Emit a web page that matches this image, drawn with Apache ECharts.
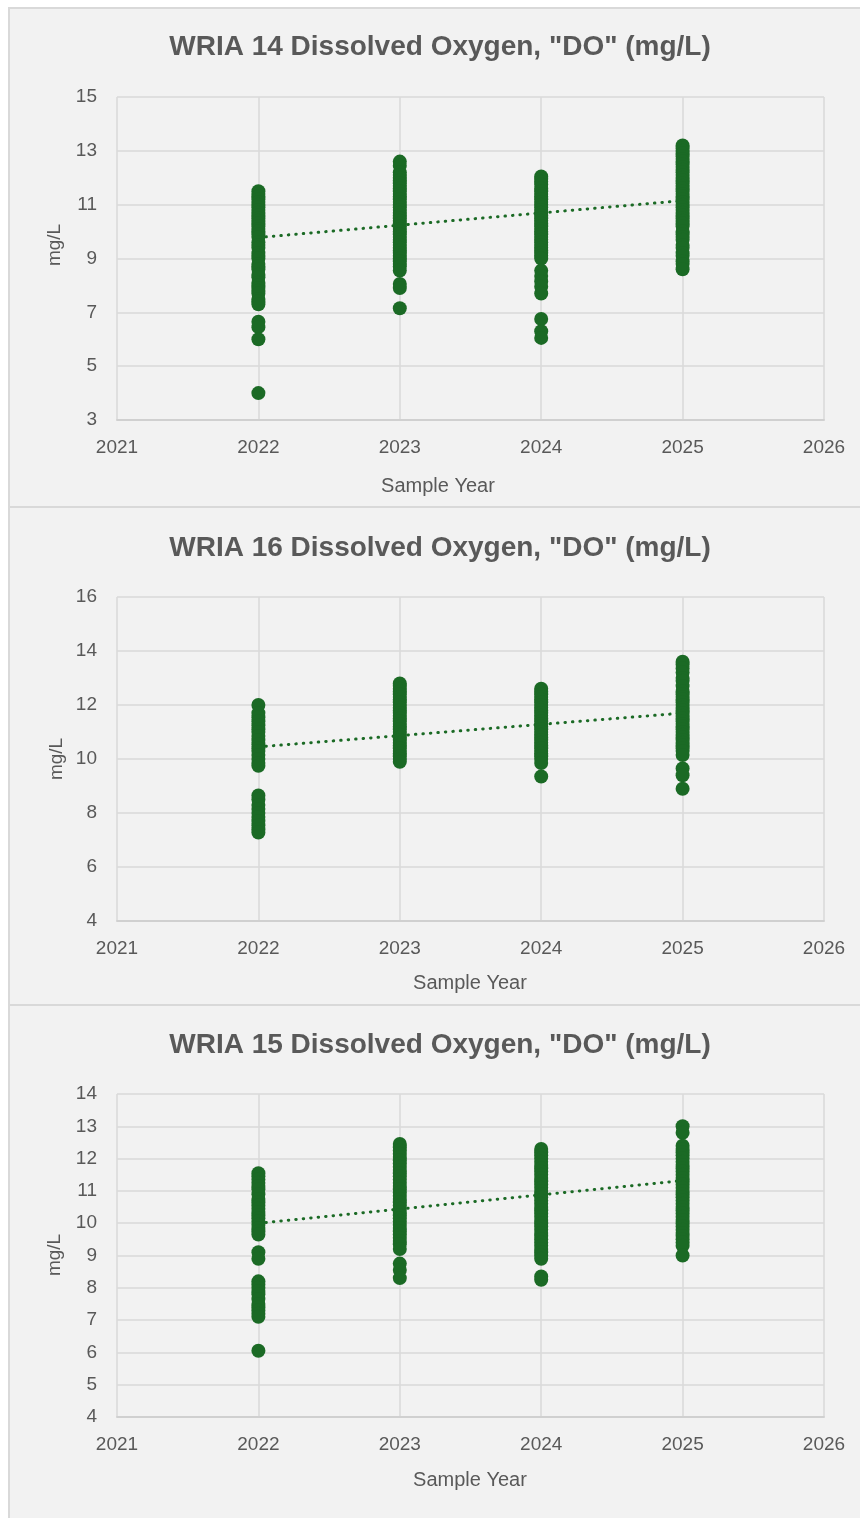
<!DOCTYPE html>
<html>
<head>
<meta charset="utf-8">
<script src="https://cdn.jsdelivr.net/npm/echarts@6/dist/echarts.min.js"></script>
<style>
  html, body { margin: 0; padding: 0; background: #ffffff; }
  #wrap { position: relative; width: 860px; height: 1518px; overflow: hidden; }
  .panel { position: absolute; left: 8px; width: 860px; background: #f2f2f2; border-left: 2px solid #d9d9d9; border-top: 2px solid #d9d9d9; box-sizing: border-box; }
  #chart { position: absolute; left: 0; top: 0; width: 860px; height: 1518px; }
</style>
</head>
<body>
<div id="wrap">
  <div class="panel" style="top:7px;height:500px;"></div>
  <div class="panel" style="top:506px;height:499px;"></div>
  <div class="panel" style="top:1004px;height:520px;"></div>
  <div id="chart"></div>
</div>
<script>
// ---------- data ----------
const years = [2022, 2023, 2024, 2025];
const xTicks = [2021, 2022, 2023, 2024, 2025, 2026];

const titles = ['WRIA 14 Dissolved Oxygen, "DO" (mg/L)', 'WRIA 16 Dissolved Oxygen, "DO" (mg/L)', 'WRIA 15 Dissolved Oxygen, "DO" (mg/L)'];

// WRIA 14
const w14_2022 = [11.5, 11.4, 11.3, 11.2, 11.1, 11.0, 10.9, 10.8, 10.7, 10.6, 10.5, 10.4, 10.3, 10.2, 10.1, 10.0, 9.9, 9.8, 9.6, 9.5, 9.4, 9.2, 9.1, 9.0, 8.8, 8.7, 8.6, 8.4, 8.3, 8.1, 8.0, 7.9, 7.8, 7.7, 7.5, 7.4, 7.3, 6.65, 6.45, 6.0, 4.0];
const w14_2023 = [12.6, 12.45, 12.2, 12.1, 12.0, 11.9, 11.8, 11.7, 11.6, 11.5, 11.4, 11.3, 11.2, 11.1, 11.0, 10.9, 10.8, 10.7, 10.6, 10.5, 10.4, 10.3, 10.2, 10.1, 10.0, 9.9, 9.8, 9.7, 9.6, 9.5, 9.4, 9.3, 9.2, 9.1, 9.0, 8.9, 8.8, 8.7, 8.55, 8.05, 7.9, 7.15];
const w14_2024 = [12.05, 11.95, 11.85, 11.75, 11.6, 11.5, 11.4, 11.3, 11.2, 11.1, 11.0, 10.9, 10.8, 10.7, 10.6, 10.5, 10.4, 10.3, 10.2, 10.1, 10.0, 9.9, 9.8, 9.7, 9.6, 9.5, 9.4, 9.3, 9.2, 9.1, 9.0, 8.55, 8.35, 8.15, 7.95, 7.7, 6.75, 6.3, 6.05];
const w14_2025 = [13.2, 13.1, 13.0, 12.9, 12.8, 12.7, 12.6, 12.5, 12.4, 12.3, 12.2, 12.1, 12.0, 11.9, 11.8, 11.7, 11.6, 11.5, 11.4, 11.3, 11.2, 11.1, 11.0, 10.9, 10.8, 10.7, 10.6, 10.5, 10.4, 10.3, 10.2, 10.0, 9.9, 9.8, 9.7, 9.5, 9.4, 9.2, 9.1, 8.9, 8.8, 8.6];
const w14_trend = [9.78, 11.15];

// WRIA 16
const w16_2022 = [12.0, 11.7, 11.55, 11.4, 11.25, 11.1, 11.0, 10.85, 10.7, 10.55, 10.4, 10.3, 10.15, 10.0, 9.85, 9.75, 8.65, 8.5, 8.3, 8.15, 8.0, 7.85, 7.7, 7.55, 7.4, 7.28];
const w16_2023 = [12.8, 12.7, 12.6, 12.5, 12.4, 12.3, 12.2, 12.1, 12.0, 11.9, 11.8, 11.7, 11.6, 11.5, 11.4, 11.3, 11.2, 11.1, 11.0, 10.9, 10.8, 10.7, 10.6, 10.5, 10.4, 10.3, 10.2, 10.1, 10.0, 9.9];
const w16_2024 = [12.6, 12.5, 12.4, 12.3, 12.2, 12.1, 12.0, 11.9, 11.8, 11.7, 11.6, 11.5, 11.4, 11.3, 11.2, 11.1, 11.0, 10.9, 10.8, 10.7, 10.6, 10.5, 10.4, 10.3, 10.2, 10.1, 10.0, 9.85, 9.35];
const w16_2025 = [13.6, 13.5, 13.35, 13.2, 13.0, 12.9, 12.7, 12.5, 12.4, 12.3, 12.2, 12.1, 12.0, 11.9, 11.8, 11.7, 11.6, 11.5, 11.4, 11.3, 11.2, 11.1, 11.0, 10.9, 10.8, 10.7, 10.6, 10.5, 10.4, 10.3, 10.15, 9.65, 9.4, 8.9];
const w16_trend = [10.45, 11.7];

// WRIA 15
const w15_2022 = [11.55, 11.45, 11.35, 11.25, 11.15, 11.05, 10.9, 10.75, 10.65, 10.55, 10.45, 10.35, 10.25, 10.15, 10.05, 9.95, 9.85, 9.75, 9.65, 9.1, 8.9, 8.2, 8.1, 8.0, 7.9, 7.8, 7.65, 7.5, 7.4, 7.3, 7.2, 7.1, 6.05];
const w15_2023 = [12.45, 12.35, 12.25, 12.15, 12.05, 11.95, 11.85, 11.75, 11.65, 11.55, 11.45, 11.35, 11.25, 11.15, 11.05, 10.95, 10.85, 10.75, 10.65, 10.55, 10.45, 10.35, 10.25, 10.15, 10.05, 9.95, 9.85, 9.75, 9.65, 9.55, 9.45, 9.35, 9.2, 8.75, 8.55, 8.3];
const w15_2024 = [12.3, 12.2, 12.1, 12.0, 11.9, 11.8, 11.7, 11.6, 11.5, 11.4, 11.3, 11.2, 11.1, 11.0, 10.9, 10.8, 10.7, 10.6, 10.5, 10.4, 10.3, 10.2, 10.1, 10.0, 9.9, 9.8, 9.7, 9.6, 9.5, 9.4, 9.3, 9.2, 9.1, 9.0, 8.9, 8.35, 8.25];
const w15_2025 = [13.0, 12.8, 12.4, 12.3, 12.2, 12.1, 12.0, 11.9, 11.8, 11.7, 11.6, 11.5, 11.4, 11.3, 11.2, 11.1, 11.0, 10.9, 10.8, 10.7, 10.6, 10.5, 10.4, 10.3, 10.2, 10.1, 10.0, 9.9, 9.8, 9.7, 9.6, 9.5, 9.4, 9.3, 9.0];
const w15_trend = [10.0, 11.32];

// y axis ranges [min, max, interval]
const yRanges = [[3, 15, 2], [4, 16, 2], [4, 14, 1]];
const yTicks14 = [3, 5, 7, 9, 11, 13, 15];

// ---------- build ----------
const columns = [
  [w14_2022, w14_2023, w14_2024, w14_2025],
  [w16_2022, w16_2023, w16_2024, w16_2025],
  [w15_2022, w15_2023, w15_2024, w15_2025]
];
const trends = [w14_trend, w16_trend, w15_trend];

const GREEN = '#1b6a25';
const GRID_C = '#d9d9d9';
const TXT = '#595959';
const FONT = '"Liberation Sans", Arial, sans-serif';

const grids = [
  { left: 117, top: 97, width: 707, height: 323 },
  { left: 117, top: 597, width: 707, height: 324 },
  { left: 117, top: 1094, width: 707, height: 323 }
];

const xAxes = [], yAxes = [], series = [];
for (let i = 0; i < 3; i++) {
  xAxes.push({
    type: 'value', gridIndex: i, min: 2021, max: 2026, interval: 1,
    axisLine: { show: true, lineStyle: { color: '#d0d0d0', width: 2 } },
    axisTick: { show: false },
    splitLine: { show: true, lineStyle: { color: GRID_C, width: 1.5 } },
    axisLabel: { color: TXT, fontSize: 19, fontFamily: FONT, margin: 18, formatter: v => String(v) }
  });
  const yr = yRanges[i];
  const yAx = {
    type: 'value', gridIndex: i, min: yr[0], max: yr[1], interval: yr[2],
    axisLine: { show: false },
    axisTick: { show: false },
    splitLine: { show: true, lineStyle: { color: GRID_C, width: 1.5 } },
    axisLabel: { color: TXT, fontSize: 19, fontFamily: FONT, margin: 20, verticalAlign: 'middle', lineHeight: 19 }
  };
  if (i === 0) {
    yAx.axisLabel.customValues = yTicks14;
    yAx.axisTick.customValues = yTicks14;
  }
  yAxes.push(yAx);

  const pts = [];
  columns[i].forEach((col, k) => col.forEach(v => pts.push([years[k], v])));

  series.push({
    type: 'line', xAxisIndex: i, yAxisIndex: i, z: 1,
    data: [[years[0], trends[i][0]], [years[3], trends[i][1]]],
    showSymbol: false, symbol: 'none', silent: true,
    lineStyle: { color: GREEN, width: 3, type: [0.5, 7], cap: 'round' }
  });
  series.push({
    type: 'scatter', xAxisIndex: i, yAxisIndex: i, z: 3,
    data: pts, symbol: 'circle', symbolSize: 14,
    itemStyle: { color: GREEN, opacity: 1 }
  });
}

const textEls = [];
const titleY = [47, 548, 1045];
titles.forEach((t, i) => textEls.push({
  type: 'text', x: 440, y: titleY[i],
  style: { text: t, fill: TXT, font: 'bold 28px ' + FONT, textAlign: 'center', textVerticalAlign: 'middle' }
}));
const xNamePos = [[438, 486], [470, 983], [470, 1480]];
xNamePos.forEach(p => textEls.push({
  type: 'text', x: p[0], y: p[1],
  style: { text: 'Sample Year', fill: TXT, font: '20px ' + FONT, textAlign: 'center', textVerticalAlign: 'middle' }
}));
const yNamePos = [[55, 245], [57, 759], [55, 1255]];
yNamePos.forEach(p => textEls.push({
  type: 'text', x: p[0], y: p[1], rotation: Math.PI / 2,
  style: { text: 'mg/L', fill: TXT, font: '19px ' + FONT, textAlign: 'center', textVerticalAlign: 'middle' }
}));

const chart = echarts.init(document.getElementById('chart'), null, { renderer: 'canvas' });
chart.setOption({
  backgroundColor: 'transparent',
  animation: false,
  grid: grids,
  xAxis: xAxes,
  yAxis: yAxes,
  series: series,
  graphic: textEls
});
</script>
</body>
</html>
